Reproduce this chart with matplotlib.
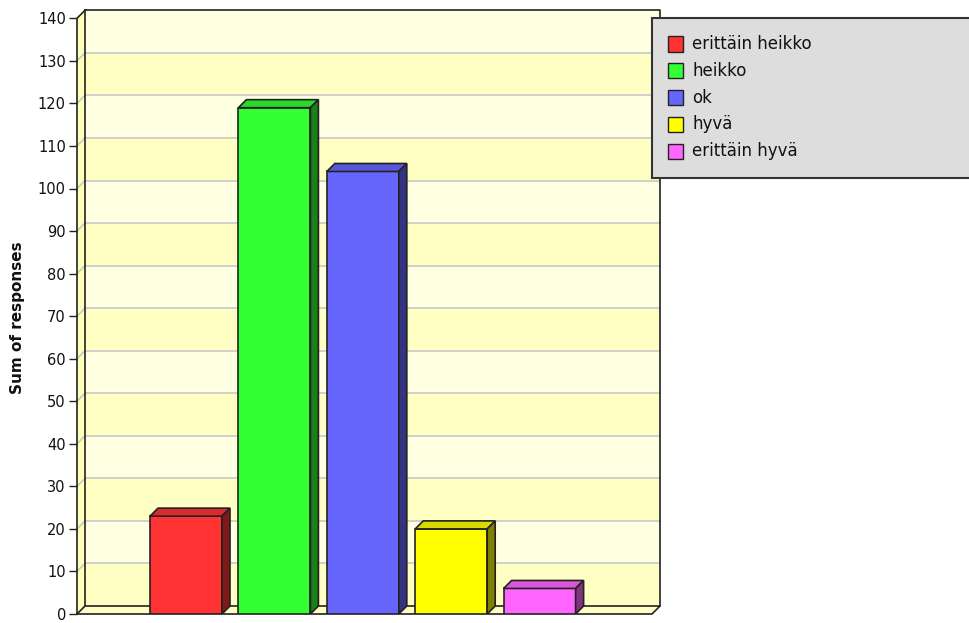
import matplotlib
matplotlib.use("Agg")
import matplotlib.pyplot as plt
import matplotlib.patches as mpatches
import numpy as np

# data
categories = ["erittäin heikko", "heikko", "ok", "hyvä", "erittäin hyvä"]
responses = [23, 119, 104, 20, 6]
front_colors = ["#FF3333", "#33FF33", "#6666FF", "#FFFF00", "#FF66FF"]
top_colors = ["#D92B2B", "#2BD92B", "#5757D9", "#D9D900", "#D957D9"]
side_colors = ["#801A1A", "#1A801A", "#333380", "#808000", "#803380"]
y_ticks = list(range(0, 141, 10))

W, H, DPI = 969, 623, 100
fig = plt.figure(figsize=(W / DPI, H / DPI), dpi=DPI)
fig.patch.set_facecolor("white")

# front plane of the plot in pixels
px_left, px_right, px_bottom, px_top = 77, 652, 614, 18.3
ax = fig.add_axes([px_left / W, (H - px_bottom) / H,
                   (px_right - px_left) / W, (px_bottom - px_top) / H])
ax.set_facecolor("none")

slot = 88.4
xl = -(186 - px_left) / slot
xr = xl + (px_right - px_left) / slot
ymax = 140
ax.set_xlim(xl, xr)
ax.set_ylim(0, ymax)
ypx = (px_bottom - px_top) / ymax
dx = 8 / slot   # depth offset in data units
dy = 8 / ypx

for s in ax.spines.values():
    s.set_visible(False)
ax.set_xticks([])
ax.set_yticks(y_ticks)
ax.set_yticklabels([str(t) for t in y_ticks], fontsize=10.5, color="#111111")
ax.tick_params(axis="y", length=6, width=1, color="#222222", pad=2)

edge = "#222222"

# left side wall
ax.add_patch(mpatches.Polygon([(xl, 0), (xl + dx, dy), (xl + dx, ymax + dy), (xl, ymax)],
                              closed=True, facecolor="#FFFFB8", edgecolor="none",
                              zorder=0, clip_on=False))
# back wall bands
for i, t in enumerate(y_ticks[:-1]):
    col = "#FFFFC4" if i % 2 == 0 else "#FFFFE2"
    ax.add_patch(mpatches.Rectangle((xl + dx, t + dy), xr - xl, 10, facecolor=col,
                                    edgecolor="none", zorder=0, clip_on=False))
# grid lines on back wall and side wall
for t in y_ticks[1:-1]:
    ax.plot([xl + dx, xr + dx], [t + dy, t + dy], color="#C8C8C8", lw=1.2, zorder=1,
            clip_on=False)
    ax.plot([xl, xl + dx], [t, t + dy], color="#C8C8C8", lw=1.2, zorder=1, clip_on=False)

# back wall border
ax.plot([xl + dx, xr + dx, xr + dx], [ymax + dy, ymax + dy, dy], color=edge, lw=1.2,
        zorder=1, clip_on=False)
ax.plot([xl + dx, xl + dx], [dy, ymax + dy], color=edge, lw=1.2, zorder=1, clip_on=False)
# floor
ax.add_patch(mpatches.Polygon([(xl, 0), (xr, 0), (xr + dx, dy), (xl + dx, dy)],
                              closed=True, facecolor="#FFFFC4", edgecolor=edge, lw=1.2,
                              zorder=1, clip_on=False))
# y axis line and top diagonal
ax.plot([xl, xl, xl + dx], [0, ymax, ymax + dy], color=edge, lw=1.2, zorder=5,
        clip_on=False)

# bars
x = np.arange(len(categories))
bw = 72 / slot
bars = ax.bar(x, responses, width=bw, color=front_colors, edgecolor=edge, lw=1.2,
              zorder=3)
for b, tc, sc in zip(bars, top_colors, side_colors):
    x0, x1, h = b.get_x(), b.get_x() + b.get_width(), b.get_height()
    ax.add_patch(mpatches.Polygon([(x0, h), (x0 + dx, h + dy), (x1 + dx, h + dy), (x1, h)],
                                  closed=True, facecolor=tc, edgecolor=edge, lw=1.2,
                                  zorder=3))
    ax.add_patch(mpatches.Polygon([(x1, 0), (x1 + dx, dy), (x1 + dx, h + dy), (x1, h)],
                                  closed=True, facecolor=sc, edgecolor=edge, lw=1.2,
                                  zorder=3))

fig.text(18 / W, 1 - 318 / H, "Sum of responses", rotation=90, ha="center", va="center",
         fontsize=11, fontweight="bold", color="#111111")

# legend box (clipped at the right edge like the original)
lg_left, lg_top, lg_bottom = 652, 18, 178
fig.patches.append(mpatches.Rectangle((lg_left / W, 1 - lg_bottom / H),
                                      (W + 10 - lg_left) / W, (lg_bottom - lg_top) / H,
                                      transform=fig.transFigure, facecolor="#DDDDDD",
                                      edgecolor="#333333", lw=1.5, zorder=5))
for i, (lab, col) in enumerate(zip(categories, front_colors)):
    yc = 44 + i * 26.8
    fig.patches.append(mpatches.Rectangle((668 / W, 1 - (yc + 7.5) / H), 15 / W, 15 / H,
                                          transform=fig.transFigure, facecolor=col,
                                          edgecolor="#222222", lw=1, zorder=6))
    fig.text(692 / W, 1 - yc / H, lab, ha="left", va="center", fontsize=12,
             color="#111111", zorder=7)

fig.savefig("out.png", dpi=DPI)
